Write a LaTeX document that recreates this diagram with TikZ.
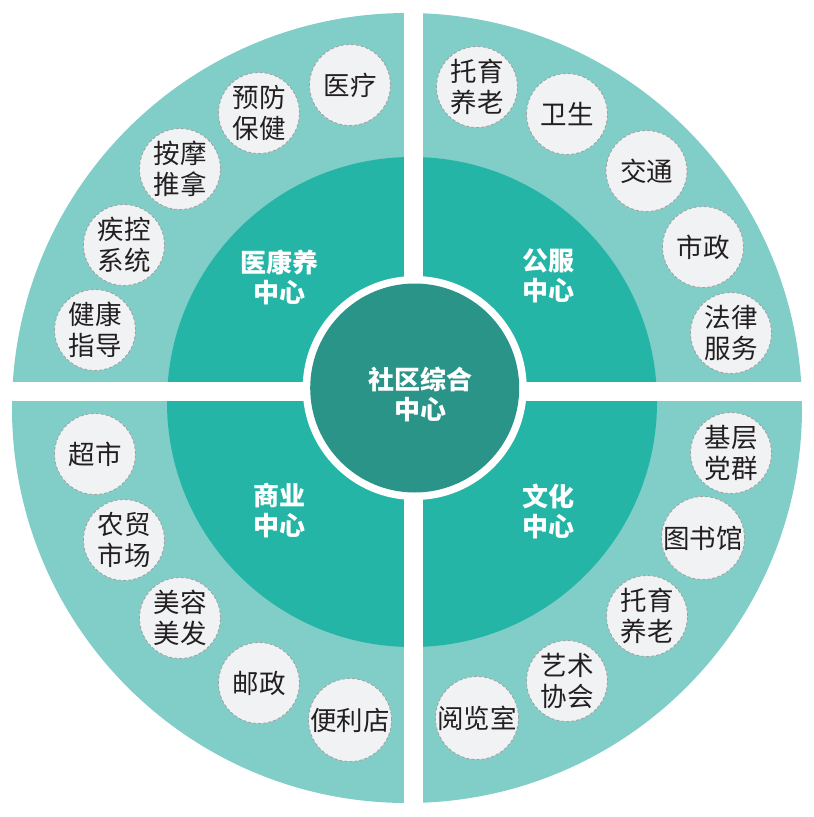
\documentclass[tikz,border=0pt]{standalone}
\usepackage{fontspec}
\newfontfamily\cjk{Noto Sans CJK SC}
\definecolor{outerteal}{RGB}{128,206,199}
\definecolor{midteal}{RGB}{36,181,167}
\definecolor{coreteal}{RGB}{43,148,136}
\definecolor{itemfill}{RGB}{241,242,244}
\definecolor{itemborder}{RGB}{160,160,160}
\definecolor{textdark}{RGB}{35,31,32}
\tikzset{
  item/.style={circle, minimum size=81pt, inner sep=0pt, fill=itemfill, draw=itemborder,
    dash pattern=on 3pt off 2pt, line width=0.8pt, text=textdark, align=center,
    font=\cjk\fontsize{26.5}{31.5}\selectfont},
  hub/.style={text=white, align=center, font=\cjk\bfseries\fontsize{26}{30}\selectfont},
}
\begin{document}
\begin{tikzpicture}[x=1pt,y=-1pt]
\useasboundingbox (0,0) rectangle (814,817);
% rings
\fill[outerteal] (407,408) circle[radius=395];
\fill[midteal] (412,402) circle[radius=245];
% white gaps
\fill[white] (404,0) rectangle (423,817);
\fill[white] (0,382) rectangle (814,401);
% core
\fill[white] (414.7,388) circle[radius=112];
\node[circle, fill=coreteal, minimum size=209pt, inner sep=0pt] (core) at (414.7,388) {};
\node[hub] (corelabel) at (420,394) {社区综合\\中心};
% hub labels
\node[hub] (yky) at (279,277) {医康养\\中心};
\node[hub] (gf) at (548,276) {公服\\中心};
\node[hub] (sy) at (279,511) {商业\\中心};
\node[hub] (wh) at (548,511) {文化\\中心};
% top-left
\node[item] (a1) at (350,85) {医疗};
\node[item] (a2) at (259,113) {预防\\保健};
\node[item] (a3) at (180,169) {按摩\\推拿};
\node[item] (a4) at (124,245) {疾控\\系统};
\node[item] (a5) at (95,330) {健康\\指导};
% top-right
\node[item] (b1) at (477,87) {托育\\养老};
\node[item] (b2) at (567,114) {卫生};
\node[item] (b3) at (646.5,171) {交通};
\node[item] (b4) at (703,247) {市政};
\node[item] (b5) at (731,333) {法律\\服务};
% bottom-right
\node[item] (c1) at (731,453) {基层\\党群};
\node[item] (c2) at (703,538) {图书馆};
\node[item] (c3) at (647,616) {托育\\养老};
\node[item] (c4) at (567,681) {艺术\\协会};
\node[item] (c5) at (477,718) {阅览室};
% bottom-left
\node[item] (d1) at (95,454) {超市};
\node[item] (d2) at (124,540) {农贸\\市场};
\node[item] (d3) at (180,618) {美容\\美发};
\node[item] (d4) at (259,683) {邮政};
\node[item] (d5) at (350,720) {便利店};
\end{tikzpicture}
\end{document}
